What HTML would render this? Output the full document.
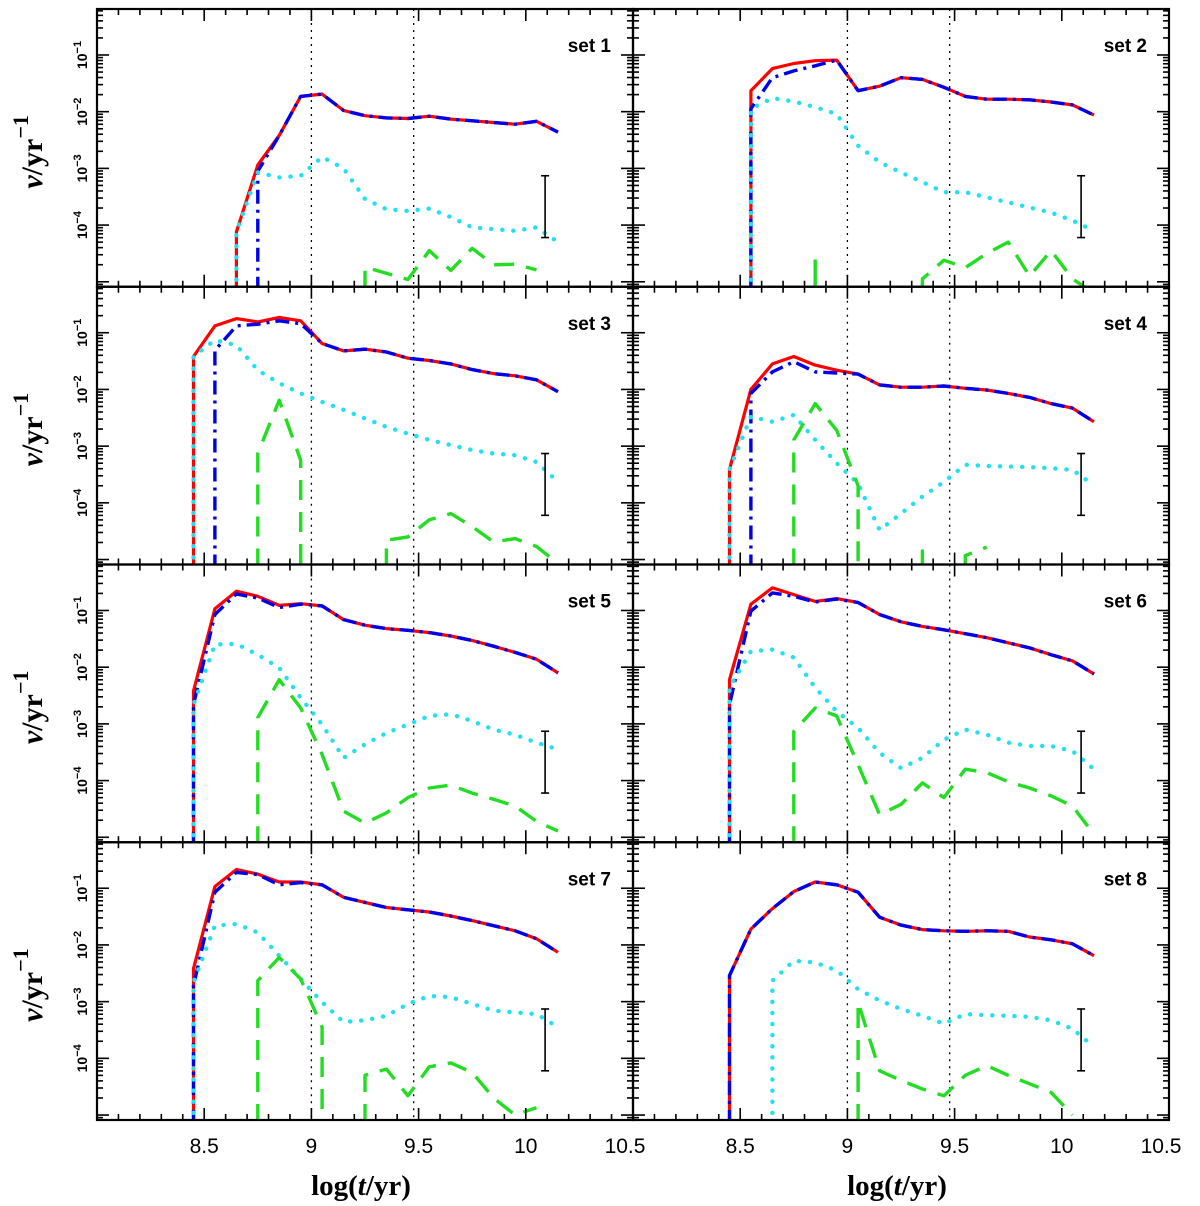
<!DOCTYPE html>
<html><head><meta charset="utf-8"><style>
html,body{margin:0;padding:0;background:#fff;}
svg{display:block;}
</style></head><body>
<svg id="chart" width="1200" height="1206" viewBox="0 0 1200 1206" xmlns="http://www.w3.org/2000/svg"></svg>
<script>
// x grid of log(t/yr)
const logT = [8.45,8.55,8.65,8.75,8.85,8.95,9.05,9.15,9.25,9.35,9.45,9.55,9.65,9.75,9.85,9.95,10.05,10.15];
const setLabels = ["set 1","set 2","set 3","set 4","set 5","set 6","set 7","set 8"];
const xTickLabels = [8.5, 9, 9.5, 10, 10.5];
const yTickLabels = [-1,-2,-3,-4];
const refLines = [9.0, 9.477];
const errBar = [10.09, -3.13, -4.22];
// values: log10(nu / yr^-1), null = zero
const red1 = [null,null,-4.12,-2.94,-2.42,-1.73,-1.69,-1.98,-2.07,-2.11,-2.12,-2.08,-2.13,-2.16,-2.19,-2.22,-2.17,-2.36];
const blue1 = [null,null,null,-3.05,-2.42,-1.73,-1.69,-1.98,-2.07,-2.11,-2.12,-2.08,-2.13,-2.16,-2.19,-2.22,-2.17,-2.36];
const cyan1 = [null,null,-4.12,-3.07,-3.16,-3.13,-2.80,-3.0,-3.54,-3.72,-3.75,-3.71,-3.86,-4.04,-4.07,-4.1,-4.04,-4.30];
const green1 = [null,null,null,null,null,null,null,null,-4.74,-4.85,-4.96,-4.45,-4.8,-4.41,-4.7,-4.69,-4.79,null];
const red2 = [null,-1.63,-1.24,-1.15,-1.10,-1.09,-1.63,-1.55,-1.40,-1.43,-1.57,-1.73,-1.78,-1.78,-1.79,-1.83,-1.88,-2.06];
const blue2 = [null,-1.95,-1.40,-1.28,-1.19,-1.09,-1.63,-1.55,-1.40,-1.43,-1.57,-1.73,-1.78,-1.78,-1.79,-1.83,-1.88,-2.06];
const cyan2 = [null,-1.95,-1.76,-1.82,-1.92,-2.04,-2.60,-2.89,-3.07,-3.24,-3.42,-3.42,-3.51,-3.60,-3.69,-3.78,-3.92,-4.10];
const green2 = [null,null,null,null,-4.6,null,null,null,null,-4.95,-4.62,-4.75,-4.5,-4.3,-4.9,-4.45,-4.95,-5.2];
const red3 = [-1.42,-0.88,-0.75,-0.81,-0.73,-0.79,-1.19,-1.32,-1.29,-1.34,-1.45,-1.49,-1.55,-1.65,-1.72,-1.76,-1.83,-2.04];
const blue3 = [null,-1.31,-0.88,-0.85,-0.79,-0.84,-1.19,-1.32,-1.29,-1.34,-1.45,-1.49,-1.55,-1.65,-1.72,-1.76,-1.83,-2.04];
const cyan3 = [-1.42,-1.13,-1.22,-1.66,-1.89,-2.07,-2.22,-2.36,-2.51,-2.66,-2.78,-2.89,-2.98,-3.07,-3.13,-3.16,-3.28,-3.63];
const green3 = [null,null,null,-3.13,-2.19,-3.25,null,null,null,-4.66,-4.6,-4.30,-4.19,-4.42,-4.69,-4.63,-4.77,-5.07];
const red4 = [-3.41,-2.0,-1.55,-1.42,-1.57,-1.66,-1.73,-1.92,-1.96,-1.96,-1.94,-1.98,-2.01,-2.07,-2.14,-2.25,-2.33,-2.57];
const blue4 = [null,-2.07,-1.69,-1.51,-1.69,-1.71,-1.73,-1.92,-1.96,-1.96,-1.94,-1.98,-2.01,-2.07,-2.14,-2.25,-2.33,-2.57];
const cyan4 = [-3.41,-2.48,-2.57,-2.45,-2.89,-3.30,-3.66,-4.48,-4.19,-3.89,-3.63,-3.33,-3.35,-3.36,-3.37,-3.39,-3.42,-3.69];
const green4 = [null,null,null,-2.89,-2.25,-2.72,-3.7,null,null,-4.85,null,-4.93,-4.78,null,null,null,null,null];
const red5 = [-2.42,-0.97,-0.66,-0.75,-0.91,-0.88,-0.92,-1.16,-1.26,-1.32,-1.35,-1.39,-1.45,-1.53,-1.63,-1.74,-1.86,-2.1];
const blue5 = [-2.66,-1.07,-0.71,-0.78,-0.95,-0.89,-0.92,-1.16,-1.26,-1.32,-1.35,-1.39,-1.45,-1.53,-1.63,-1.74,-1.86,-2.1];
const cyan5 = [-2.66,-1.6,-1.59,-1.78,-2.01,-2.54,-3.01,-3.6,-3.36,-3.16,-3.01,-2.86,-2.83,-2.95,-3.1,-3.19,-3.33,-3.45];
const green5 = [null,null,null,-2.89,-2.22,-2.72,-3.54,-4.54,-4.75,-4.57,-4.3,-4.13,-4.08,-4.22,-4.33,-4.45,-4.72,-4.89];
const red6 = [-2.22,-0.89,-0.6,-0.72,-0.84,-0.79,-0.86,-1.07,-1.2,-1.28,-1.34,-1.41,-1.48,-1.57,-1.66,-1.78,-1.89,-2.12];
const blue6 = [-2.66,-1.01,-0.69,-0.75,-0.85,-0.80,-0.86,-1.07,-1.2,-1.28,-1.34,-1.41,-1.48,-1.57,-1.66,-1.78,-1.89,-2.12];
const cyan6 = [-2.36,-1.72,-1.69,-1.83,-2.36,-2.78,-3.07,-3.51,-3.78,-3.6,-3.28,-3.1,-3.19,-3.33,-3.39,-3.39,-3.48,-3.8];
const green6 = [null,null,null,-3.13,-2.72,-2.86,-3.72,-4.6,-4.42,-4.04,-4.3,-3.8,-3.86,-4.02,-4.13,-4.27,-4.45,-4.95];
const red7 = [-2.42,-0.97,-0.67,-0.75,-0.89,-0.89,-0.94,-1.16,-1.25,-1.34,-1.38,-1.42,-1.49,-1.57,-1.66,-1.75,-1.89,-2.13];
const blue7 = [-2.72,-1.07,-0.72,-0.76,-0.94,-0.9,-0.94,-1.16,-1.25,-1.34,-1.38,-1.42,-1.49,-1.57,-1.66,-1.75,-1.89,-2.13];
const cyan7 = [-2.66,-1.66,-1.63,-1.78,-2.19,-2.6,-3.01,-3.36,-3.33,-3.25,-3.04,-2.9,-2.92,-3.04,-3.16,-3.19,-3.22,-3.45];
const green7 = [null,null,null,-2.63,-2.22,-2.6,-3.45,null,-4.3,-4.19,-4.66,-4.15,-4.08,-4.25,-4.7,-5.0,-4.87,null];
const red8 = [-2.54,-1.72,-1.36,-1.06,-0.89,-0.94,-1.07,-1.51,-1.65,-1.73,-1.75,-1.76,-1.75,-1.76,-1.86,-1.91,-1.98,-2.19];
const blue8 = [-2.54,-1.72,-1.36,-1.06,-0.89,-0.94,-1.07,-1.51,-1.65,-1.73,-1.75,-1.76,-1.75,-1.76,-1.86,-1.91,-1.98,-2.19];
const cyan8 = [null,null,-2.63,-2.28,-2.31,-2.45,-2.78,-2.98,-3.13,-3.25,-3.39,-3.22,-3.24,-3.25,-3.27,-3.33,-3.48,-3.8];
const green8 = [null,null,null,null,null,null,-3.01,-4.22,-4.39,-4.54,-4.66,-4.3,-4.13,-4.3,-4.45,-4.6,-5.0,null];

const reds=[red1,red2,red3,red4,red5,red6,red7,red8];
const blues=[blue1,blue2,blue3,blue4,blue5,blue6,blue7,blue8];
const cyans=[cyan1,cyan2,cyan3,cyan4,cyan5,cyan6,cyan7,cyan8];
const greens=[green1,green2,green3,green4,green5,green6,green7,green8];

const NS="http://www.w3.org/2000/svg";
const svg=document.getElementById('chart');
const PW=536, PH=277.75, XL=[97,633], YT=9;
const XMIN=8.0, XPX=214.4, YTOP=-0.189, YPX=56.7, YBOT=YTOP-PH/YPX;
function el(tag,attrs,parent){const e=document.createElementNS(NS,tag);for(const k in attrs)e.setAttribute(k,attrs[k]);(parent||svg).appendChild(e);return e;}

const defs=el('defs',{});
for(let p=0;p<8;p++){
  const col=p%2,row=Math.floor(p/2);
  const x0=XL[col], y0=YT+row*PH;
  const cp=el('clipPath',{id:'clip'+p},defs);
  el('rect',{x:x0,y:y0,width:PW,height:PH},cp);
}

for(let p=0;p<8;p++){
  const col=p%2,row=Math.floor(p/2);
  const x0=XL[col], y0=YT+row*PH;
  const sx=v=>x0+(v-XMIN)*XPX;
  const sy=v=>y0+(YTOP-v)*YPX;
  const yb=y0+PH+4;
  const g=el('g',{});
  
  
  refLines.forEach(v=>{
    const l=el('line',{x1:sx(v),x2:sx(v),y1:y0,y2:y0+PH,stroke:'#000','stroke-width':1.3,'stroke-dasharray':'2 5'},g);
    
    
  });
  const series=[[reds[p],'#ff0000','',3.2,'total-rate-line'],[blues[p],'#0000e6','14 6 3 6',3.4,'blue-dashdot-line'],[cyans[p],'#22e0f0','0.1 11',4.4,'cyan-dotted-line'],[greens[p],'#22dd22','20 12',3.4,'green-dashed-line']];
  series.forEach(([arr,color,dash,w,name])=>{
    let d='';
    let inSeg=false;
    for(let i=0;i<arr.length;i++){
      const v=arr[i];
      if(v===null){
        if(inSeg){
          const restNull=arr.slice(i).every(q=>q===null);
          if(!restNull) d+=' L'+sx(logT[i-1]).toFixed(1)+' '+yb;
          inSeg=false;
        }
        continue;
      }
      if(!inSeg){
        d+=' M'+sx(logT[i]).toFixed(1)+' '+yb+' L'+sx(logT[i]).toFixed(1)+' '+sy(v).toFixed(1);
        inSeg=true;
      } else d+=' L'+sx(logT[i]).toFixed(1)+' '+sy(v).toFixed(1);
    }
    const path=el('path',{d:d,fill:'none',stroke:color,'stroke-width':w,'stroke-dasharray':dash,'stroke-linecap':dash==='0.1 11'?'round':'butt','stroke-linejoin':'round','clip-path':'url(#clip'+p+')'},g);
    
    
  });
  const eb=el('g',{stroke:'#000','stroke-width':1.6},g);
  
  
  const ex=sx(errBar[0]);
  el('line',{x1:ex,x2:ex,y1:sy(errBar[1]),y2:sy(errBar[2])},eb);
  el('line',{x1:ex-4,x2:ex+4,y1:sy(errBar[1]),y2:sy(errBar[1])},eb);
  el('line',{x1:ex-4,x2:ex+4,y1:sy(errBar[2]),y2:sy(errBar[2])},eb);
  const tk=el('g',{stroke:'#000','stroke-width':1.6},g);
  
  
  for(let k=0;k<=25;k++){
    const v=XMIN+k*0.1; const x=sx(v); const L=(k%5===0)?12:6;
    el('line',{x1:x,x2:x,y1:y0,y2:y0+L},tk);
    el('line',{x1:x,x2:x,y1:y0+PH,y2:y0+PH-L},tk);
  }
  for(let dcd=-6;dcd<=0;dcd++){
    for(let m=1;m<=9;m++){
      const v=dcd+Math.log10(m); if(v>YTOP||v<YBOT)continue;
      const y=sy(v); const L=m===1?12:6;
      el('line',{x1:x0,x2:x0+L,y1:y,y2:y},tk);
      el('line',{x1:x0+PW,x2:x0+PW-L,y1:y,y2:y},tk);
    }
  }
  const fr=el('rect',{x:x0,y:y0,width:PW,height:PH,fill:'none',stroke:'#000','stroke-width':2.2},g);
  
  
  const st=el('text',{x:x0+PW-22,y:y0+43,'text-anchor':'end','font-family':'Liberation Sans, sans-serif','font-weight':'bold','font-size':19},g);
  st.textContent=setLabels[p];
  
  
  if(col===0){
    yTickLabels.forEach(v=>{
      const y=sy(v);
      const t=el('text',{transform:'translate(87,'+y.toFixed(1)+') rotate(-90)','text-anchor':'middle','font-family':'Liberation Sans, sans-serif','font-weight':'bold','font-size':14},g);
      
      
      t.innerHTML='10<tspan dy="-6" font-size="11">\u2212'+(-v)+'</tspan>';
    });
    const yt=el('text',{transform:'translate(42,'+(y0+PH/2+4).toFixed(1)+') rotate(-90)','text-anchor':'middle','font-family':'Liberation Serif, serif','font-weight':'bold','font-size':30},g);
    
    
    yt.innerHTML='<tspan font-style="italic">\u03bd</tspan>/yr<tspan dy="-14" font-size="22">\u22121</tspan>';
  }
  if(row===3){
    xTickLabels.forEach(v=>{
      const t=el('text',{x:sx(v)+(v===10.5?-8:0),y:y0+PH+33,'text-anchor':'middle','font-family':'Liberation Sans, sans-serif','font-size':21},g);
      t.textContent=String(v);
      
      
    });
    const xt=el('text',{x:x0+PW/2-4,y:y0+PH+75,'text-anchor':'middle','font-family':'Liberation Serif, serif','font-weight':'bold','font-size':29},g);
    
    
    xt.innerHTML='log(<tspan font-style="italic">t</tspan>/yr)';
  }
}
</script>
</body></html>
